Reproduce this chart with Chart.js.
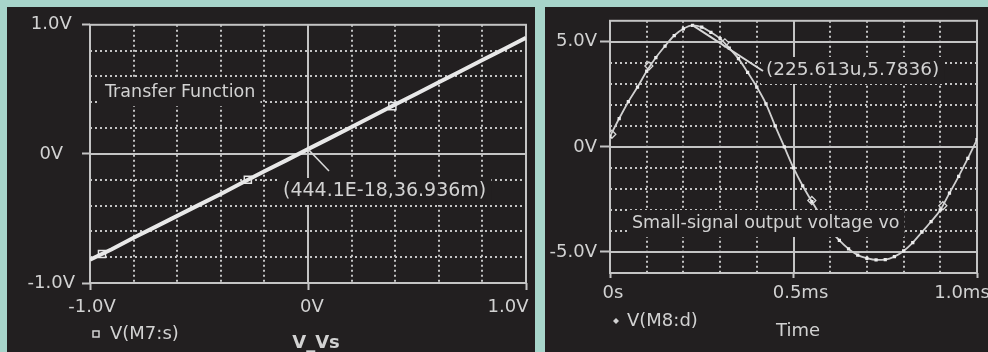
<!DOCTYPE html>
<html><head><meta charset="utf-8">
<script src="https://cdn.jsdelivr.net/npm/chart.js@4.4.1/dist/chart.umd.min.js"></script>
<style>
html,body{margin:0;padding:0;background:#a7d4ca;width:988px;height:352px;overflow:hidden;}
#p1{position:absolute;left:7px;top:7px;width:528px;height:345px;background:#221f20;}
#p2{position:absolute;left:545px;top:7px;width:443px;height:345px;background:#221f20;}
canvas{display:block;}
</style></head><body>
<div id="p1"><canvas id="c1" width="528" height="345"></canvas></div>
<div id="p2"><canvas id="c2" width="443" height="345"></canvas></div>
<script>
// ---------- Left chart data: Transfer Function ----------
const sweepV = [-1.0,-0.9,-0.8,-0.7,-0.6,-0.5,-0.4,-0.3,-0.2,-0.1,0.0,0.1,0.2,0.3,0.4,0.5,0.6,0.7,0.8,0.9,1.0];
const vM7s   = [-0.82,-0.738,-0.65,-0.565,-0.48,-0.395,-0.31,-0.222,-0.135,-0.05,0.037,0.122,0.208,0.295,0.382,0.468,0.555,0.64,0.727,0.813,0.9];
const markSweepV = [-0.945,-0.276,0.387];
const markM7s    = [-0.776,-0.2,0.37];
const leftXTickValues = [-1,0,1];
const leftXTickLabels = ['-1.0V','0V','1.0V'];
const leftYTickValues = [-1,0,1];
const leftYTickLabels = ['-1.0V','0V','1.0V'];
const leftCursor = [4.441e-16, 0.036936];
const leftCursorText = '(444.1E-18,36.936m)';
const leftTitleText = 'Transfer Function';
const leftLegendText = 'V(M7:s)';
const leftAxisTitle = 'V_Vs';

// ---------- Right chart data: small-signal output ----------
const timeMs = [0,0.025,0.05,0.075,0.1,0.125,0.15,0.175,0.2,0.225,0.25,0.275,0.3,0.325,0.35,0.375,0.4,0.425,0.45,0.475,0.5,0.525,0.55,0.575,0.6,0.625,0.65,0.675,0.7,0.725,0.75,0.775,0.8,0.825,0.85,0.875,0.9,0.925,0.95,0.975,1.0];
const vM8d   = [0.5,1.35,2.15,2.85,3.6,4.25,4.8,5.3,5.62,5.78,5.7,5.45,5.15,4.7,4.2,3.55,2.85,2.05,1.0,0.0,-1.0,-1.85,-2.6,-3.3,-3.95,-4.45,-4.85,-5.15,-5.3,-5.38,-5.36,-5.22,-4.95,-4.55,-4.05,-3.55,-3.0,-2.2,-1.4,-0.55,0.35];
const diamondT = [0.005,0.106,0.313,0.55,0.907];
const diamondV = [0.6,3.85,4.95,-2.55,-2.8];
const rightXTickValues = [0,0.5,1];
const rightXTickLabels = ['0s','0.5ms','1.0ms'];
const rightYTickValues = [5,0,-5];
const rightYTickLabels = ['5.0V','0V','-5.0V'];
const rightCursor = [0.225613, 5.7836];
const rightCursorText = '(225.613u,5.7836)';
const rightTitleText = 'Small-signal output voltage vo';
const rightLegendText = 'V(M8:d)';
const rightAxisTitle = 'Time';

// ---------- styles ----------
const PANEL = '#221f20';
const TXT = '#d2d2d2';
const GRID = '#c4c4c4';
const FONT = 'DejaVu Sans';
const near = (a,b) => Math.abs(a-b) < 1e-6;
const labelFor = (vals, labs) => v => { const i = vals.findIndex(t => near(t, v)); return i >= 0 ? labs[i] : ''; };
const isMajor = vals => v => vals.some(t => near(t, v));

function gridPlugin(majorX, majorY) {
  return {
    id: 'customGrid',
    beforeDatasetsDraw(chart) {
      const {ctx, chartArea: a, scales: {x, y}} = chart;
      ctx.save();
      ctx.lineWidth = 2;
      ctx.strokeStyle = GRID;
      const line = (x1,y1,x2,y2,dash) => { ctx.setLineDash(dash); ctx.beginPath(); ctx.moveTo(x1,y1); ctx.lineTo(x2,y2); ctx.stroke(); };
      x.ticks.forEach(t => {
        if (near(t.value, x.min) || near(t.value, x.max)) return;
        const px = Math.round(x.getPixelForValue(t.value));
        line(px, a.top, px, a.bottom, majorX(t.value) ? [] : [2,3]);
      });
      y.ticks.forEach(t => {
        if (near(t.value, y.min) || near(t.value, y.max)) return;
        const py = Math.round(y.getPixelForValue(t.value));
        line(a.left, py, a.right, py, majorY(t.value) ? [] : [2,3]);
      });
      ctx.setLineDash([]);
      ctx.strokeRect(a.left, a.top, a.right - a.left, a.bottom - a.top);
      ctx.restore();
    }
  };
}

function textBox(ctx, text, x, y, font, box) {
  ctx.font = font;
  const w = ctx.measureText(text).width;
  if (box) { ctx.fillStyle = PANEL; ctx.fillRect(x - 5, y - 13, w + 10, 27); }
  ctx.fillStyle = TXT; ctx.textAlign = 'left'; ctx.textBaseline = 'middle';
  ctx.fillText(text, x, y);
}

function xLabels(chart, vals, labs, offsets, cy) {
  const {ctx, scales: {x}} = chart;
  ctx.save();
  ctx.font = '18px ' + FONT; ctx.fillStyle = TXT; ctx.textAlign = 'center'; ctx.textBaseline = 'middle';
  vals.forEach((v, i) => ctx.fillText(labs[i], x.getPixelForValue(v) + offsets[i], cy));
  ctx.restore();
}

function yAxisCommon(min, max, step, vals, labs, tickLen, pad, cross, width) {
  return {
    type: 'linear', min, max,
    afterFit: s => { s.width = width; },
    border: {display: false},
    grid: {drawOnChartArea: false, drawTicks: true, tickLength: tickLen, tickWidth: 2,
           tickColor: c => isMajor(vals)(c.tick.value) ? GRID : 'rgba(0,0,0,0)'},
    ticks: {stepSize: step, autoSkip: false, padding: pad, crossAlign: cross, color: TXT,
            font: {family: FONT, size: 18}, callback: labelFor(vals, labs)}
  };
}
function xAxisCommon(min, max, step, vals, tickLen, height) {
  return {
    type: 'linear', min, max,
    afterFit: s => { s.height = height; s.paddingLeft = 0; s.paddingRight = 0; },
    border: {display: false},
    grid: {drawOnChartArea: false, drawTicks: true, tickLength: tickLen, tickWidth: 2,
           tickColor: c => isMajor(vals)(c.tick.value) ? GRID : 'rgba(0,0,0,0)'},
    ticks: {stepSize: step, autoSkip: false, display: false}
  };
}

// ---------- Left chart ----------
new Chart(document.getElementById('c1'), {
  type: 'scatter',
  data: {datasets: [
    {data: sweepV.map((v,i) => ({x: v, y: vM7s[i]})), showLine: true, borderColor: '#e8e8e8', borderWidth: 4, pointRadius: 0},
    {data: markSweepV.map((v,i) => ({x: v, y: markM7s[i]})), showLine: false, pointStyle: 'rect', pointRadius: 5,
     pointBackgroundColor: PANEL, pointBorderColor: '#e6e6e6', pointBorderWidth: 1.5}
  ]},
  options: {
    responsive: false, animation: false, devicePixelRatio: 1,
    layout: {padding: {top: 12, right: 9, left: 0, bottom: 0}},
    plugins: {legend: {display: false}, tooltip: {enabled: false}},
    scales: {
      x: xAxisCommon(-1, 1, 0.2, leftXTickValues, 7, 69),
      y: yAxisCommon(-1, 1, 0.2, leftYTickValues, leftYTickLabels, 8, 7, 'center', 83)
    }
  },
  plugins: [gridPlugin(isMajor([0]), isMajor([0])), {
    id: 'leftAnno',
    afterDatasetsDraw(chart) {
      const {ctx, scales: {x, y}} = chart;
      ctx.save();
      textBox(ctx, leftTitleText, 98, 85, '17.5px ' + FONT, true);
      textBox(ctx, leftCursorText, 276, 184, '19px ' + FONT, true);
      ctx.strokeStyle = '#d8d8d8'; ctx.lineWidth = 1.5;
      ctx.beginPath(); ctx.moveTo(x.getPixelForValue(leftCursor[0]), y.getPixelForValue(leftCursor[1]));
      ctx.lineTo(322, 164); ctx.stroke();
      ctx.restore();
    },
    afterDraw(chart) {
      const {ctx} = chart;
      xLabels(chart, leftXTickValues, leftXTickLabels, [2, 4, -18], 300);
      ctx.save();
      ctx.strokeStyle = TXT; ctx.lineWidth = 1.5; ctx.strokeRect(86, 324, 6, 6);
      textBox(ctx, leftLegendText, 103, 327, '18px ' + FONT, false);
      ctx.font = 'bold 18px ' + FONT; ctx.fillStyle = TXT; ctx.textAlign = 'center'; ctx.textBaseline = 'middle';
      ctx.fillText(leftAxisTitle, 309, 336);
      ctx.restore();
    }
  }]
});

// ---------- Right chart ----------
new Chart(document.getElementById('c2'), {
  type: 'scatter',
  data: {datasets: [
    {data: timeMs.map((t,i) => ({x: t, y: vM8d[i]})), showLine: true, borderColor: '#d0d0d0', borderWidth: 1.8,
     cubicInterpolationMode: 'monotone', pointStyle: 'rect', pointRadius: 2.3, pointBackgroundColor: '#ececec', pointBorderWidth: 0},
    {data: diamondT.map((t,i) => ({x: t, y: diamondV[i]})), showLine: false, pointStyle: 'rectRot', pointRadius: 4,
     pointBackgroundColor: PANEL, pointBorderColor: '#d8d8d8', pointBorderWidth: 1.3}
  ]},
  options: {
    responsive: false, animation: false, devicePixelRatio: 1,
    layout: {padding: {top: 11, right: 11, left: 0, bottom: 0}},
    plugins: {legend: {display: false}, tooltip: {enabled: false}},
    scales: {
      x: xAxisCommon(0, 1, 0.1, rightXTickValues, 5, 79),
      y: yAxisCommon(-6, 6, 1, rightYTickValues, rightYTickLabels, 10, 3, 'near', 65)
    }
  },
  plugins: [gridPlugin(isMajor([0.5]), isMajor([5, 0, -5])), {
    id: 'rightAnno',
    afterDatasetsDraw(chart) {
      const {ctx, scales: {x, y}} = chart;
      ctx.save();
      textBox(ctx, rightCursorText, 221, 63, '18.5px ' + FONT, true);
      textBox(ctx, rightTitleText, 87, 216, '17.5px ' + FONT, true);
      ctx.strokeStyle = '#d8d8d8'; ctx.lineWidth = 2;
      ctx.beginPath(); ctx.moveTo(x.getPixelForValue(rightCursor[0]), y.getPixelForValue(rightCursor[1]));
      ctx.lineTo(218, 64); ctx.stroke();
      ctx.restore();
    },
    afterDraw(chart) {
      const {ctx} = chart;
      xLabels(chart, rightXTickValues, rightXTickLabels, [3, 7, -15], 286);
      ctx.save();
      ctx.fillStyle = TXT; ctx.beginPath();
      ctx.moveTo(71, 311); ctx.lineTo(74, 314); ctx.lineTo(71, 317); ctx.lineTo(68, 314); ctx.closePath(); ctx.fill();
      textBox(ctx, rightLegendText, 82, 314, '18px ' + FONT, false);
      ctx.font = '18px ' + FONT; ctx.fillStyle = TXT; ctx.textAlign = 'center'; ctx.textBaseline = 'middle';
      ctx.fillText(rightAxisTitle, 253, 324);
      ctx.restore();
    }
  }]
});
</script>
</body></html>
